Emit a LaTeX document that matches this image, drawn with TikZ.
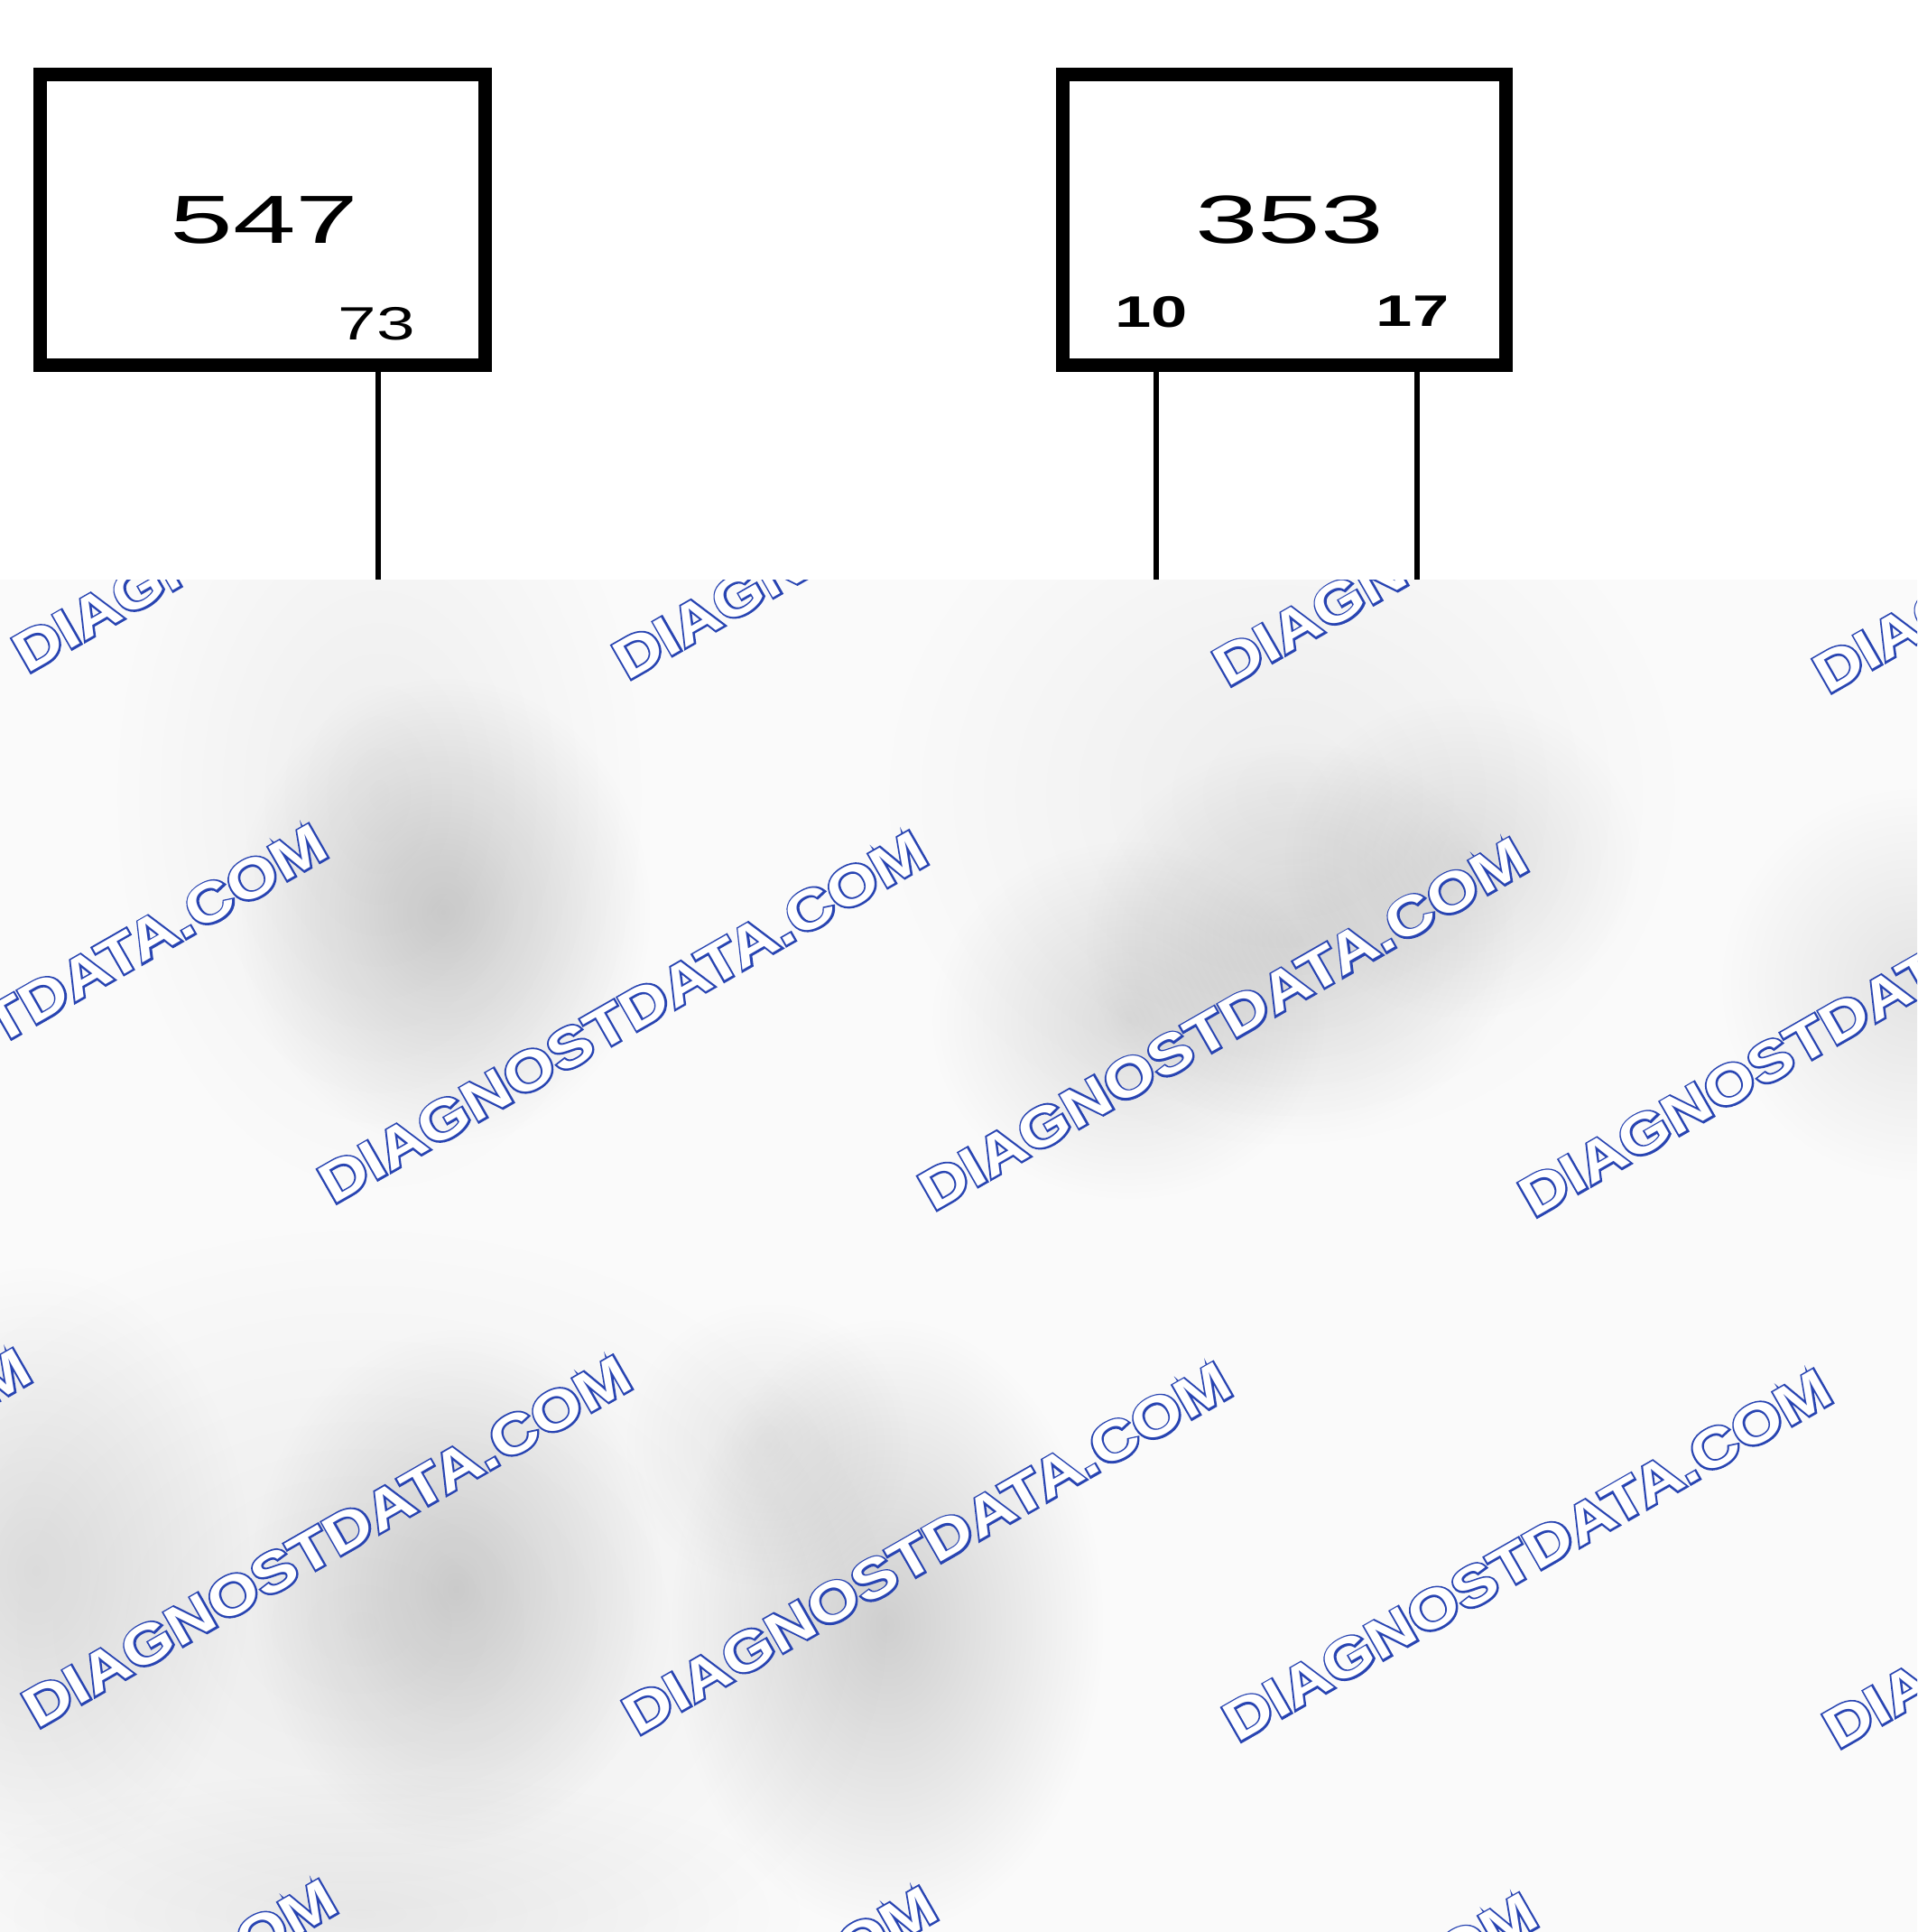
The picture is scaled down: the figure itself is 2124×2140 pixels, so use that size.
\documentclass[tikz,border=0pt]{standalone}
\usepackage{fontspec}
\setmainfont{Liberation Sans}
\newfontfamily\bigdig[FakeStretch=1.66]{Liberation Sans}
\newfontfamily\smalldig[FakeStretch=1.48]{Liberation Sans}
\newfontfamily\wmfont[FakeStretch=1.18]{Liberation Sans}
\newfontfamily\wmedge[FakeStretch=1.18, FakeBold=7]{Liberation Sans}
\usetikzlibrary{fadings}
\definecolor{wmblue}{RGB}{40,68,178}
\definecolor{bgc}{RGB}{250,250,250}
\tikzfading[name=softblob, inner color=transparent!0, outer color=transparent!100]
\newcommand{\wmtext}{\makebox[0pt][l]{\color{wmblue}\wmedge\bfseries DIAGNOSTDATA.COM}\color{white}\wmfont\bfseries DIAGNOSTDATA.COM}
\begin{document}
\begin{tikzpicture}[x=0.01cm, y=-0.01cm,
  compbox/.style={draw=black, line width=0.15cm, minimum height=3.21cm, inner sep=0pt, fill=white},
  wire/.style={line width=0.06cm},
  bignum/.style={font=\bigdig\fontsize{21.45}{24}\selectfont, inner sep=0pt, anchor=base},
  pinnum/.style={font=\smalldig\fontsize{14.7}{17}\selectfont, inner sep=0pt, anchor=base},
  pinbold/.style={font=\smalldig\bfseries\fontsize{13.9}{16}\selectfont, inner sep=0pt, anchor=base},
  wm/.style={font=\fontsize{17.5}{20}\selectfont, inner sep=0pt, anchor=base west, rotate=29.8},
  blob/.style={fill=black, path fading=softblob}
]
\useasboundingbox (0,0) rectangle (2124,2140);
\fill[white] (0,0) rectangle (2124,2140);

% blurred, watermarked lower region
\fill[bgc] (0,642) rectangle (2124,2140);
\begin{scope}
  \clip (0,642) rectangle (2124,2140);
  \fill[blob, opacity=0.05] (420,880) ellipse [x radius=3.0cm, y radius=4.5cm];
  \fill[blob, opacity=0.05] (1420,880) ellipse [x radius=4.5cm, y radius=4.0cm];
  \fill[blob, opacity=0.17] (491,1010) ellipse [x radius=2.3cm, y radius=2.6cm];
  \fill[blob, opacity=0.11] (1250,1130) ellipse [x radius=2.2cm, y radius=2.0cm];
  \fill[blob, opacity=0.12] (1440,1040) ellipse [x radius=2.4cm, y radius=2.2cm];
  \fill[blob, opacity=0.09] (1620,950) ellipse [x radius=2.0cm, y radius=1.8cm];
  \fill[blob, opacity=0.09] (2124,1090) ellipse [x radius=2.2cm, y radius=2.2cm];
  \fill[blob, opacity=0.06] (400,1800) ellipse [x radius=6.0cm, y radius=4.5cm];
  \fill[blob, opacity=0.15] (505,1760) ellipse [x radius=2.3cm, y radius=2.9cm];
  \fill[blob, opacity=0.10] (40,1740) ellipse [x radius=2.4cm, y radius=3.4cm];
  \fill[blob, opacity=0.17] (983,1800) ellipse [x radius=2.4cm, y radius=3.4cm];
  \fill[blob, opacity=0.07] (850,1600) ellipse [x radius=1.6cm, y radius=1.6cm];
  \fill[blob, opacity=0.06] (400,2120) ellipse [x radius=5.0cm, y radius=1.6cm];
  \foreach \rx/\ry [count=\r] in {29.8/747, 368.6/1335, 40.7/1916, 379.5/2504} {
    \foreach \k in {0,...,4} {
      \node[wm, name=wm\r k\k] at ({\rx+665*(\k-1)},{\ry+7.6*(\k-1)}) {\wmtext};
    }
  }
\end{scope}

% components
\node[compbox, minimum width=4.93cm] (b547) at (291,243.5) {};
\node[compbox, minimum width=4.91cm] (b353) at (1423,243.5) {};

\node[bignum] (t547) at (293,270) {547};
\node[bignum] (t353) at (1428.5,270) {353};
\node[pinnum] (p73) at (417.5,377) {73};
\node[pinbold] (p10) at (1275.5,363) {10};
\node[pinbold] (p17) at (1565,362) {17};

% wires
\coordinate (e73) at (419,642);
\coordinate (e10) at (1280.6,642);
\coordinate (e17) at (1570,642);
\draw[wire] (b547.south -| e73) -- (e73);
\draw[wire] (b353.south -| e10) -- (e10);
\draw[wire] (b353.south -| e17) -- (e17);
\end{tikzpicture}
\end{document}
